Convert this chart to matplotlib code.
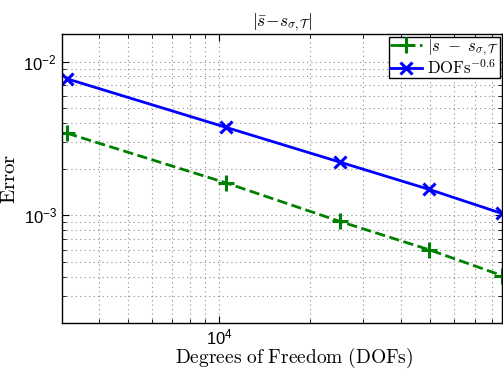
import numpy as np
import matplotlib
matplotlib.use("Agg")
import matplotlib.pyplot as plt
from matplotlib.ticker import LogLocator, NullFormatter

# data
dofs = [3146, 10520, 25100, 49550, 86100]
err_s = [3.42e-3, 1.63e-3, 9.14e-4, 5.98e-4, 4.07e-4]
err_ref = [7.72e-3, 3.74e-3, 2.22e-3, 1.475e-3, 1.03e-3]

plt.rcParams['font.family'] = ['Liberation Sans', 'DejaVu Sans']
plt.rcParams['mathtext.fontset'] = 'cm'

W, H = 503, 370
fig = plt.figure(figsize=(W / 100, H / 100), dpi=100)
ax = fig.add_axes([0.1227, 0.127, 0.8763, 0.78])

ax.loglog(dofs, err_s, '--', color=(0, 0.5, 0), lw=2, marker='+', ms=11, mew=2.2,
          label=r'$|s\ -\ s_{\sigma,\mathcal{T}}$')
ax.loglog(dofs, err_ref, '-', color=(0, 0, 1), lw=2, marker='x', ms=9, mew=2.2,
          label=r'$\mathrm{DOFs}^{-0.6}$')

ax.set_xlim(3020, 86500)
ax.set_ylim(2e-4, 1.5e-2)

ax.xaxis.set_minor_formatter(NullFormatter())
ax.yaxis.set_minor_formatter(NullFormatter())
ax.yaxis.set_minor_locator(LogLocator(base=10, subs=np.arange(2, 10)))
ax.xaxis.set_minor_locator(LogLocator(base=10, subs=np.arange(2, 10)))

ax.grid(True, which='both', ls=(0, (1, 3)), color='0.55', lw=0.8)
ax.tick_params(which='both', direction='in', top=True, right=True, labelsize=12)
ax.tick_params(which='major', length=5, width=0.8)
ax.tick_params(which='minor', length=3, width=0.6)
ax.tick_params(axis='x', pad=3)
for s in ax.spines.values():
    s.set_linewidth(1.0)

# x label placed by hand so it sits like the reference (slightly right of centre)
fig.text(294 / W, 1 - 363 / H, r'$\mathrm{Degrees\ of\ Freedom\ (DOFs)}$',
         fontsize=14, ha='center', va='baseline')
ax.set_ylabel(r'$\mathrm{Error}$', fontsize=15, labelpad=3)
ax.set_title(r'$|\bar{s}\!-\!s_{\sigma,\mathcal{T}}|$', fontsize=12.5, pad=6)

leg = ax.legend(loc='upper right', fontsize=12, frameon=True, fancybox=False,
                edgecolor='black', framealpha=1, borderpad=0.05, labelspacing=0.0,
                handlelength=1.9, handletextpad=0.3, borderaxespad=0.15)
leg.get_frame().set_linewidth(1.0)

fig.savefig('out.png', dpi=100)
